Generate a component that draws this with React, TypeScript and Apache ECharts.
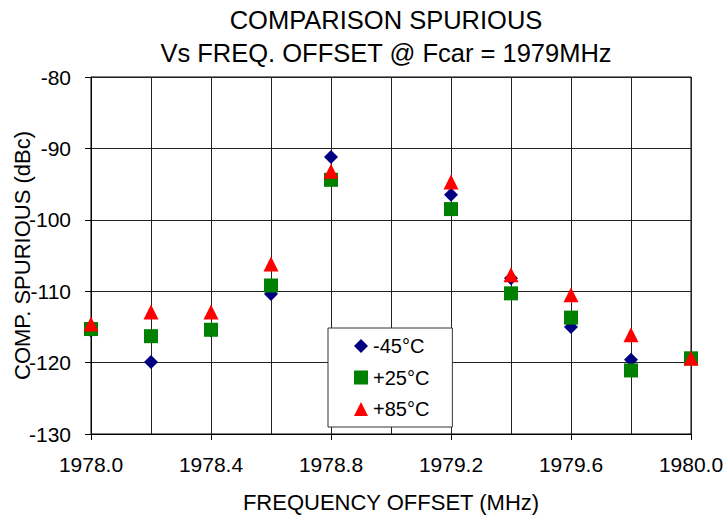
import React, { useEffect, useRef } from "react";
import * as echarts from "echarts";

const freqs = [1978.0, 1978.2, 1978.4, 1978.6, 1978.8, 1979.2, 1979.4, 1979.6, 1979.8, 1980.0];
const minus45 = [-115.5, -119.9, -115.5, -110.4, -91.2, -96.5, -108.2, -115.0, -119.6, -119.4];
const plus25 = [-115.3, -116.3, -115.4, -109.2, -94.4, -98.5, -110.3, -113.7, -121.1, -119.4];
const plus85 = [-114.6, -112.9, -112.9, -106.2, -93.2, -94.7, -107.7, -110.5, -116.1, -119.4];
const seriesNames = ["-45°C", "+25°C", "+85°C"];
const titleLines = ["COMPARISON SPURIOUS", "Vs FREQ. OFFSET @ Fcar = 1979MHz"];
const xName = "FREQUENCY OFFSET (MHz)";
const yName = "COMP. SPURIOUS (dBc)";

const FONT = "'Liberation Sans', Arial, Helvetica, sans-serif";

export default function App() {
  const ref = useRef<HTMLDivElement>(null);
  useEffect(() => {
    if (!ref.current) return;
    const chart = echarts.init(ref.current, undefined, { renderer: "svg" });
    const pair = (ys: number[]) => freqs.map((f, i) => [f, ys[i]]);
    chart.setOption({
      animation: false,
      backgroundColor: "#fff",
      textStyle: { fontFamily: FONT, color: "#000" },
      graphic: [
        {
          type: "text",
          x: 386,
          y: 3.5,
          style: {
            text: titleLines.join("\n"),
            textAlign: "center",
            fontFamily: FONT,
            fontSize: 25.5,
            lineHeight: 33,
            fill: "#000",
          },
        },
      ],
      grid: {
        left: 91,
        right: 32,
        top: 77,
        bottom: 83,
        outerBoundsMode: "none",
        containLabel: false,
        show: true,
        borderColor: "#000",
        borderWidth: 1,
        backgroundColor: "transparent",
      },
      legend: {
        orient: "vertical",
        left: 328,
        top: 328,
        padding: [8, 23, 8, 26],
        itemGap: 11.5,
        itemWidth: 14,
        itemHeight: 14,
        backgroundColor: "#fff",
        borderColor: "#333",
        borderWidth: 1,
        borderRadius: 0,
        selectedMode: false,
        textStyle: { fontFamily: FONT, fontSize: 20, lineHeight: 20, color: "#000" },
        data: [
          { name: seriesNames[0], icon: "diamond" },
          { name: seriesNames[1], icon: "rect" },
          { name: seriesNames[2], icon: "triangle" },
        ],
      },
      xAxis: {
        type: "value",
        min: 1978,
        max: 1980,
        interval: 0.4,
        name: xName,
        nameLocation: "middle",
        nameGap: 57,
        nameMoveOverlap: false,
        nameTextStyle: { fontFamily: FONT, fontSize: 22, color: "#000" },
        axisLine: { show: true, lineStyle: { color: "#000", width: 1 } },
        axisTick: { show: true, inside: false, length: 6, lineStyle: { color: "#000" } },
        minorTick: { show: false, splitNumber: 2 },
        minorSplitLine: { show: true, lineStyle: { color: "#222", width: 1 } },
        splitLine: { show: true, lineStyle: { color: "#222", width: 1 } },
        axisLabel: {
          fontFamily: FONT,
          fontSize: 21,
          color: "#000",
          margin: 20,
          formatter: (v: number) => v.toFixed(1),
        },
      },
      yAxis: {
        type: "value",
        min: -130,
        max: -80,
        interval: 10,
        name: yName,
        nameLocation: "middle",
        nameGap: 58,
        nameMoveOverlap: false,
        nameTextStyle: { fontFamily: FONT, fontSize: 22, color: "#000" },
        axisLine: { show: true, lineStyle: { color: "#000", width: 1 } },
        axisTick: { show: true, inside: false, length: 6, lineStyle: { color: "#000" } },
        splitLine: { show: true, lineStyle: { color: "#222", width: 1 } },
        axisLabel: { fontFamily: FONT, fontSize: 21, color: "#000", margin: 20 },
      },
      series: [
        {
          name: seriesNames[0],
          type: "scatter",
          symbol: "diamond",
          symbolSize: 14,
          itemStyle: { color: "#000080", opacity: 1 },
          data: pair(minus45),
          z: 2,
        },
        {
          name: seriesNames[1],
          type: "scatter",
          symbol: "rect",
          symbolSize: 14,
          itemStyle: { color: "#008000", opacity: 1 },
          data: pair(plus25),
          z: 3,
        },
        {
          name: seriesNames[2],
          type: "scatter",
          symbol: "triangle",
          symbolSize: 15,
          itemStyle: { color: "#ff0000", opacity: 1 },
          data: pair(plus85),
          z: 4,
        },
      ],
    });
    return () => chart.dispose();
  }, []);
  return <div ref={ref} style={{ width: 723, height: 517, position: "absolute", left: 0, top: 0 }} />;
}
